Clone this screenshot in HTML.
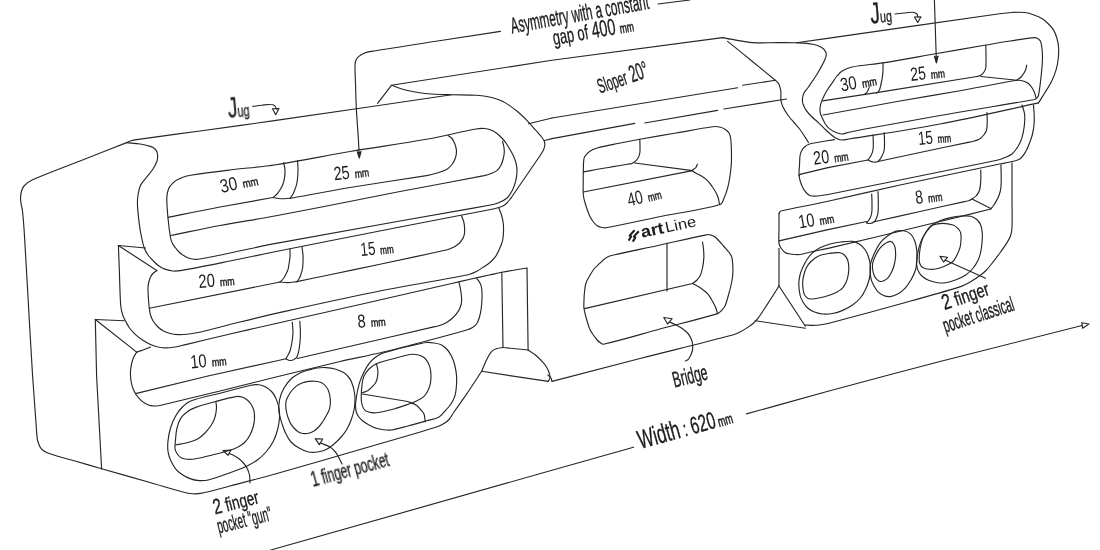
<!DOCTYPE html>
<html lang="en"><head><meta charset="utf-8"><title>Hangboard sketch</title>
<style>
html,body{margin:0;padding:0;background:#fff;}
body{width:1100px;height:550px;overflow:hidden;}
svg{display:block;}
.ln path{fill:none;stroke:#262626;stroke-width:1.15;stroke-linecap:round;stroke-linejoin:round;}
text{white-space:pre;font-family:"Liberation Sans",sans-serif;fill:#1a1a1a;}
</style></head><body>
<svg width="1100" height="550" viewBox="0 0 1100 550">
<rect width="1100" height="550" fill="#fff"/>
<g class="ln">
<path d="M126.7 142.6C111.1 148.7 95.6 154.8 80 161C64.2 167.2 48.1 172.9 32.6 179.8C29.4 181.2 26.4 183.4 24 186C22.5 187.6 21.8 189.9 21.3 192C20.7 194.6 20.4 197.3 20.6 200C20.9 204 22.2 208 22.6 212C23.5 220.6 24.1 229.3 24.6 238C26.2 263 27.5 288 28.9 313C30.1 334 31.2 355 32.6 376C33.8 394 35.1 412 36.5 430C36.8 433.3 36.7 436.8 37.5 440C38.3 443.1 39.2 446.4 41.4 448.8C43.6 451.3 46.9 452.7 50 453.8C58.2 456.8 66.7 458.6 75 461C83.9 463.6 92.7 466.2 101.6 468.8"/>
<path d="M101.6 468.8C117.7 473.4 133.9 477.9 150 482.5C161.9 485.9 173.7 489.6 185.7 492.7C188.1 493.3 190.5 493.7 193 493.8C195.6 493.9 198.2 493.9 200.7 493.4C210.6 491.3 220.3 488.5 230 486C245.4 482 260.7 478.1 276 473.8C304.1 465.9 332 457.7 360 449.5C385.5 442.1 411.2 434.9 436.6 427C439.2 426.2 441.7 424.9 444 423.5C445.8 422.4 447.6 421.1 449 419.5C451 417.2 452.3 414.5 454 412C458.2 405.9 462.6 400 466.7 393.9C471.8 386.4 476.7 378.8 481.7 371.3"/>
<path d="M126.7 142.6C128.1 142 129.5 141.2 131 140.8C132.9 140.2 134.8 139.9 136.7 139.6C157.8 136.6 178.9 133.9 200 131C225.3 127.5 250.7 124 276 120.4C334.5 112 393.1 103.3 451.6 94.8"/>
<path d="M126.7 142.6C131.1 143.1 135.6 143.3 140 144C143.5 144.6 147.1 145.2 150.5 146.4C152.3 147.1 154.2 148.1 155.5 149.5C156.6 150.7 157.3 152.4 157.5 154C157.8 156.3 157.7 158.8 157 161C156.1 163.9 154.6 166.5 153 169C150.9 172.2 148.3 175 146 178C144.1 180.4 141.8 182.5 140.5 185.3C139.1 188.3 138.5 191.7 138 195C137.5 198.4 137.3 201.9 137.5 205.4C137.8 212.1 138.6 218.8 139.5 225.4C140 229.6 140.8 233.8 141.7 238C142.4 241.4 143.1 244.8 144.3 248C145.2 250.5 146.5 252.8 148 255C149.4 257.1 151.2 258.8 153 260.6C154.9 262.5 156.8 264.5 159 266C161 267.4 163.3 268.6 165.6 269.4C168 270.2 170.5 270.8 173 271C175.5 271.2 178.1 271 180.6 270.6C197.1 267.7 213.6 264.3 230 261C245.4 257.9 260.6 254.6 276 251.5C317.3 243.2 358.7 235.1 400 227C429.3 221.3 458.7 215.7 488 210C491 209.4 494 208.8 497 208C498.9 207.5 500.8 207 502.5 206.2C504 205.5 505.3 204.6 506.5 203.5C508.2 201.9 509.5 199.8 511 198"/>
<path d="M511 198L540.5 155"/>
<path d="M540.5 155C541.4 153.5 542.5 152.1 543.2 150.5C543.9 148.9 544.6 147.2 544.8 145.5C545 144 544.7 142.4 544.2 141C543.7 139.7 542.9 138.6 542 137.5C539.8 134.7 537.3 132.2 535 129.5C532.3 126.5 529.7 123.3 526.9 120.4C524.1 117.5 521.1 114.6 518 112C515.2 109.6 512.3 107.5 509.3 105.4C507.3 104 505.2 102.6 503 101.5C501 100.5 498.9 99.7 496.8 99C493.6 98 490.3 97.1 487 96.5C483.6 95.9 480.2 95.5 476.7 95.3C468.3 94.9 460 95 451.6 94.8C444.9 94.6 438.3 94.5 431.6 94C427 93.7 422.5 93.2 418 92.5C414.1 91.9 410.3 91.3 406.5 90.3C401.4 88.9 396.4 87 391.4 85.3"/>
<path d="M276 164.7C260.7 167.1 245.3 168.1 230 170C216.9 171.6 203.7 173.2 190.7 175.3C187.4 175.8 184.1 176.7 181 178C178.1 179.2 175.3 180.7 173 182.8C171.1 184.5 169.5 186.6 168.5 189C167.4 191.8 166.9 194.8 166.8 197.8C166.7 204.5 167.4 211.3 168 218C168.6 224.7 169.4 231.4 170.6 238C170.9 239.9 171.6 241.8 172.5 243.5C173.3 245.1 174.5 246.6 175.6 248C177 249.7 178.3 251.5 180 253C181.7 254.5 183.7 255.7 185.7 256.8C187.4 257.7 189.1 258.4 191 258.8C193.4 259.3 195.8 259.7 198.2 259.3C208.9 257.7 219.4 255.2 230 253C245.3 249.9 260.6 246.3 276 243.4C317.3 235.6 358.7 228.4 400 221C429.7 215.7 459.5 210.7 489.2 205.2C492.2 204.7 495.2 204.1 498 203C501.1 201.8 504.3 200.4 506.8 198.2C509.3 196 511 193 512.5 190C514 187 515 183.8 515.8 180.6C516.5 177.5 517 174.2 517 171C517 168.3 516.7 165.6 516 163C515.3 160.2 514.2 157.6 513 155C511.9 152.6 510.4 150.3 509 148C508 146.3 507.1 144.6 506 143C504.7 141.2 503.3 139.6 501.8 138C500.3 136.4 498.8 134.8 497 133.5C495.1 132.1 493.2 130.8 491 130C488.8 129.1 486.4 128.7 484 128.5C481.3 128.3 478.6 128.5 476 129C459.4 132.1 443.1 136.3 426.5 139.3C401.1 143.8 375.5 147.2 350 151.5C325.3 155.7 300.8 160.9 276 164.7Z"/>
<path d="M168 217.4C185.3 213.9 202.6 210.3 220 207C237.6 203.7 255.3 200.7 273 197.5"/>
<path d="M290.2 198.3C310.1 194.7 330 190.8 350 187.5C375.5 183.3 401 179.8 426.5 175.6C430.1 175 433.6 174.1 437 173C440.3 172 443.6 171.1 446.6 169.4C448.7 168.2 450.5 166.4 452 164.5C453.5 162.6 454.6 160.3 455.4 158C456.1 155.9 456.5 153.7 456.5 151.5C456.5 149.5 456 147.5 455.4 145.5C455 143.9 454.2 142.5 453.5 141C453 139.9 452.4 138.8 451.6 138C450.6 137 449.2 136.3 448 135.5"/>
<path d="M170.6 235.5C187.1 232.2 203.5 228.6 220 225.5C238.6 222 257.4 219.3 276 215.8C317.4 208 358.6 199.5 400 191.5C428 186.1 456.2 181.1 484.2 175.6C486.5 175.1 488.8 174.4 491 173.5C493 172.7 495.1 172 496.8 170.6C498.5 169.2 499.8 167.4 500.8 165.5C502 163.3 502.7 160.9 503.3 158.5C503.9 156.4 504.2 154.2 504.3 152C504.4 150.2 504.1 148.3 503.8 146.5C503.5 144.7 502.9 143 502.5 141.3"/>
<path d="M283.6 162.5C284.1 165 284.9 167.5 285 170C285.2 172.6 284.9 175.2 284.5 177.8C284.2 179.9 283.7 182 283 184C282.3 185.9 281.4 187.6 280.4 189.3C279.4 191 278.3 192.6 277 194C275.8 195.3 274.3 196.3 273 197.5"/>
<path d="M297.6 160.6C297.7 163.4 298 166.2 298 169C298 171.9 297.9 174.9 297.6 177.8C297.4 179.9 297.2 182 296.7 184C296.3 185.8 295.6 187.6 295 189.3C294.4 190.9 293.8 192.5 293 194C292.2 195.5 291.1 196.9 290.2 198.3"/>
<path d="M273 197.5C275.7 197.9 278.3 198.6 281 198.7C284.1 198.8 287.1 198.4 290.2 198.3"/>
<path d="M118.4 245.5L145.5 248"/>
<path d="M118.4 245.5L156.8 270.6"/>
<path d="M118.4 245.5C118.7 254.3 119.1 263.2 119.4 272C119.7 281.6 119.9 291.1 120.4 300.7C120.5 303.5 120.7 306.3 121.2 309C121.6 311.3 122.2 313.6 123 315.8C123.6 317.5 124.5 319.2 125.4 320.8C126.7 323.2 127.9 325.8 129.5 328C131.3 330.4 133.3 332.6 135.5 334.6C137.7 336.6 140 338.4 142.5 340C145.1 341.7 147.7 343.3 150.5 344.6C152.9 345.7 155.4 346.4 158 347C160.5 347.5 163 347.9 165.6 347.9C168.7 347.9 171.9 347.5 175 347C178.6 346.4 182.1 345.4 185.7 344.6C200.5 341.1 215.2 337.5 230 334C245.3 330.4 260.7 327 276 323.5C304 317.1 332 310.9 360 304.5C390.5 297.5 421.1 290.5 451.6 283.5C457.7 282.1 463.9 280.7 470 279.3C476.4 277.9 482.8 276.4 489.2 275C493.4 274.1 497.6 273.1 501.8 272.3C510.2 270.7 518.6 269.4 527 268"/>
<path d="M156.8 270.6C155.5 271.6 154.1 272.4 153 273.5C152 274.5 151.1 275.6 150.5 276.9C149.7 278.5 149.2 280.3 148.8 282C148.3 284 148.1 286.1 148 288.2C147.9 291.5 148.2 294.7 148.4 298C148.6 301.4 148.9 304.8 149.3 308.2C149.6 310.5 149.9 312.8 150.5 315C151.1 317 151.9 319 153 320.8C154.3 322.9 155.8 324.8 157.5 326.5C159.1 328.1 161 329.7 163 330.8C165.2 332 167.6 332.9 170 333.5C172.6 334.2 175.3 334.5 178 334.6C181.7 334.7 185.4 334.4 189 334C192.9 333.5 196.8 332.9 200.7 332C213.9 328.9 226.9 325.2 240 322C252 319 264 316.1 276 313.4C307.3 306.4 338.6 299.3 370 293C400.4 286.9 431.1 281.7 461.6 276C464.1 275.5 466.6 275.2 469 274.5C471.5 273.7 474 272.7 476.4 271.5C478.9 270.2 481.2 268.6 483.6 267C485.8 265.6 488 264.2 490 262.5C491.9 260.8 493.8 259 495.3 256.9C497 254.5 498.3 251.7 499.5 249C500.7 246.4 501.8 243.7 502.5 240.9C503.2 238 503.4 235 503.5 232C503.6 229.2 503.6 226.3 503.3 223.5C503 220.6 502.3 217.8 501.5 215C500.8 212.7 499.8 210.5 498.9 208.2"/>
<path d="M149.3 308.2L280 282"/>
<path d="M290 249C290 251.7 290.2 254.3 290 257C289.8 259.4 289.4 261.7 289 264C288.7 265.8 288.5 267.7 288 269.5C287.5 271.1 286.7 272.5 286 274C285.2 275.5 284.5 277.1 283.5 278.5C282.5 279.8 281.2 280.8 280 282"/>
<path d="M302 247C302.3 249.7 302.8 252.3 303 255C303.2 257.3 303.1 259.7 303 262C302.9 264.2 302.9 266.4 302.5 268.5C302.2 270.4 301.6 272.2 301 274C300.6 275.4 300.2 276.7 299.5 278C298.8 279.3 297.8 280.4 297 281.6"/>
<path d="M280 282C282.7 282.2 285.3 282.7 288 282.6C291 282.5 294 281.9 297 281.6"/>
<path d="M461.6 215.8C462.3 217.9 463.3 219.9 463.8 222C464.3 224.1 464.5 226.2 464.6 228.3C464.7 230.2 464.7 232.1 464.4 234C464.1 235.5 463.7 237.1 462.9 238.4C461.8 240.3 460.5 242 459 243.5C457.5 244.9 455.8 246 454 247C452.1 248 450.1 248.8 448 249.5C445.9 250.2 443.7 250.5 441.6 251C421.1 255.5 400.5 259.9 380 264.3C362.9 267.9 345.8 271.4 328.7 275C318.1 277.2 307.6 279.4 297 281.6"/>
<path d="M95.3 319.5L124.2 320.8"/>
<path d="M95.3 319.5L136.7 352.1"/>
<path d="M95.3 319.5L96.6 376L101.6 468.8"/>
<path d="M136.7 352.1C135.6 353.9 134.3 355.6 133.5 357.5C132.7 359.4 132.2 361.4 131.7 363.4C131.2 365.6 130.8 367.8 130.6 370C130.4 372 130.4 374 130.5 376C130.6 378.2 130.9 380.4 131.3 382.5C131.7 384.5 132.2 386.6 133 388.5C133.8 390.6 134.8 392.6 136 394.5C137.3 396.4 138.8 398.2 140.5 399.8C141.9 401.1 143.4 402.3 145 403.2C146.7 404.2 148.6 405.1 150.5 405.6C152.3 406.1 154.2 406.1 156 406C158 405.9 160 405.5 162 405C181.4 400.5 200.7 395.7 220 391C238.7 386.4 257.3 381.6 276 377C297.3 371.8 318.6 366.5 340 361.5C353.8 358.3 367.7 355.8 381.4 352.5C397.7 348.6 413.8 344.3 430 340C442.3 336.8 454.5 333.6 466.7 330C468.7 329.4 470.7 328.6 472.5 327.5C474.1 326.5 475.7 325.3 476.7 323.7C478 321.7 478.8 319.3 479.5 317C480.3 314.3 480.8 311.4 481.2 308.6C481.7 305.1 481.9 301.5 482 298C482.1 294.8 482.1 291.6 481.7 288.5C481.4 286.6 480.9 284.7 480 283C479.2 281.3 477.8 280 476.7 278.5"/>
<path d="M136.7 352.1C138.8 351.4 140.9 350.8 143 350C145.5 349.1 148 348 150.5 347"/>
<path d="M135.5 393.6L208 376L276 361L286 358.8"/>
<path d="M292.3 322.4C292.5 325.6 293 328.8 293 332C292.9 335.3 292.5 338.7 292 342C291.5 345 291 348.1 290 351C289 353.8 287.3 356.2 286 358.8"/>
<path d="M299.8 321.2C300 324.8 300.4 328.4 300.4 332C300.4 336 300.3 340 299.8 344C299.3 348.2 298.8 352.4 297.3 356.3C296.8 357.7 295.3 358.7 294 359.5C292.8 360.2 291.4 360.6 290 360.5C288.6 360.4 287.3 359.4 286 358.8"/>
<path d="M459 282.3C459.6 285.2 460.4 288.1 460.8 291C461.3 294.3 461.8 297.7 461.6 301C461.5 303.4 460.9 305.8 460 308C459.2 310 457.9 311.9 456.6 313.6C455.2 315.4 453.7 317 452 318.5C450.3 320 448.5 321.3 446.6 322.4C444.3 323.7 442 324.7 439.5 325.5C436.9 326.4 434.2 326.8 431.5 327.4C407.7 332.9 383.8 338.5 360 344C339.1 348.8 318.2 353.7 297.3 358.5"/>
<path d="M168 441C168.5 436.6 169.2 432.2 170.5 428C171.8 423.8 173.5 419.8 175.6 416C177.3 412.9 179.5 410 182 407.5C184.6 404.9 187.3 402.3 190.7 401C200.2 397.4 210.2 395.8 220 393.2C230.3 390.5 240.6 387.4 251 385.2C253.6 384.6 256.4 384.4 259 384.8C261.5 385.1 263.8 386.1 266 387.3C268.2 388.5 270.3 390.1 272 392C273.7 393.9 275 396.2 276 398.6C277.3 401.6 278.4 404.8 279 408C279.6 411.3 279.7 414.7 279.5 418C279.2 422 278.6 426.1 277.5 430C276.4 434.1 275 438.2 273 442C271.1 445.6 268.6 448.9 266 452C263.6 454.8 260.9 457.3 258 459.5C254.6 462 250.8 464.1 247 466C243.5 467.8 239.7 469.2 236 470.5C226.8 473.8 217.6 477.4 208.2 480C205.2 480.8 202.1 480.8 199 480.6C196.2 480.4 193.4 479.9 190.7 478.9C187.6 477.8 184.7 476.3 182 474.5C179.6 472.9 177.4 471 175.6 468.8C173.5 466.1 171.9 463.1 170.5 460C169.3 457.2 168.4 454.3 168 451.3C167.6 447.9 167.6 444.4 168 441Z"/>
<path d="M175.6 438.7C175.9 435.1 176.1 431.5 177 428C177.8 424.7 178.8 421.4 180.6 418.6C182.2 416 184.5 413.8 187 412C189.6 410 192.6 408.5 195.7 407.4C202.3 405 209.1 403.3 215.8 401.5C222.4 399.7 229 397.8 235.8 396.6C237.8 396.2 240 396.4 242 397C243.8 397.5 245.5 398.6 247 399.8C248.8 401.3 250.3 403.1 251.5 405C252.6 406.8 253.5 408.9 254 411C254.5 413.4 254.6 416 254.5 418.5C254.4 421 254.1 423.6 253.4 426C252.6 429.1 251.5 432.2 250 435C248.6 437.7 246.8 440.3 244.6 442.5C242.7 444.4 240.3 445.7 238 447C235.7 448.2 233.3 449.2 230.8 450C224.9 451.8 219 453.3 213 454.8C207.3 456.2 201.5 457.8 195.7 458.8C193 459.3 190.2 459.5 187.5 459.3C185.1 459.1 182.7 458.6 180.6 457.5C179 456.6 178 455 177 453.5C176.1 452.1 175.2 450.5 175 448.8C174.7 445.4 175.3 442.1 175.6 438.7Z"/>
<path d="M215.8 401.5C216 403.3 216.5 405.2 216.5 407C216.5 409.2 216.2 411.4 215.8 413.6C215.4 415.8 214.8 418 214 420C213.1 422.1 212 424.1 210.7 426C209 428.5 207.1 430.9 205 433C202.9 435.1 200.6 437.3 198 438.7C194.6 440.6 190.8 441.7 187 442.8C183.3 443.8 179.4 444.3 175.6 445"/>
<path d="M282.3 424.5C281 420.4 279.5 416.3 279 412C278.5 408 278.7 403.9 279.5 400C280.4 395.8 281.9 391.7 284 388C286.1 384.3 288.9 380.9 292 378C294.3 375.8 297.2 374.4 300 373C302.7 371.7 305.7 370.9 308.6 370C311.4 369.2 314.1 368.4 317 368C320 367.6 323.1 367.4 326.2 367.6C329.2 367.8 332.1 368.2 335 369C338 369.9 341 371 343.7 372.6C345.6 373.7 347.1 375.4 348.5 377C349.6 378.3 350.6 379.8 351.3 381.4C352.5 384.2 353.4 387.1 354 390C354.6 393 355 396 355 399C355 402.3 354.8 405.7 354.2 409C353.6 412.6 352.5 416.1 351.3 419.5C350.1 422.8 348.7 426 347 429C345.4 431.9 343.4 434.5 341.2 437C339 439.5 336.6 441.8 334 444C331.5 446.1 329.1 448.2 326.2 449.6C323.5 450.9 320.5 451.6 317.5 452C314.6 452.4 311.5 452.6 308.6 452C305.2 451.3 302 449.7 299 448C296.1 446.4 293.3 444.4 291 442C288.9 439.7 287.4 436.8 286 434C284.5 431 283.3 427.7 282.3 424.5Z"/>
<path d="M286 401.5C286.6 398.4 288.3 395.6 290 393C291.6 390.5 293.7 388.3 296 386.4C297.8 384.9 299.9 383.8 302 383C304.1 382.2 306.4 381.7 308.6 381.4C310.7 381.1 312.9 381 315 381.2C317.1 381.4 319.3 381.7 321.2 382.6C323.1 383.5 324.7 384.9 326 386.5C327.2 387.9 328.1 389.6 328.7 391.4C329.5 393.8 330.1 396.4 330.3 399C330.5 401.5 330.4 404 330 406.5C329.8 408.2 329.2 409.9 328.5 411.5C327.8 413.2 326.7 414.9 325.8 416.5C324.7 418.4 323.7 420.2 322.5 422C321.3 423.7 320.1 425.5 318.6 427C317.2 428.5 315.7 429.9 314 431C312.3 432 310.5 432.9 308.6 433.3C306.8 433.7 304.9 433.7 303 433.5C301.5 433.3 299.9 432.8 298.6 432C296.7 430.8 295 429.2 293.5 427.5C292 425.8 290.7 424 289.8 422C288.4 418.8 287.1 415.5 286.5 412C285.9 408.6 285.4 404.9 286 401.5Z"/>
<path d="M381.4 353.8C385.4 352.1 389.7 351.1 393.9 350C399.2 348.5 404.6 347.2 410 346C415.5 344.7 420.9 343.2 426.5 342.5C429 342.2 431.5 342.6 434 343C436.6 343.4 439.3 343.8 441.6 345C443.9 346.2 445.8 348.1 447.5 350C449.2 351.9 450.5 354 451.6 356.3C453.1 359.4 454.2 362.7 455 366C455.8 369.4 456.3 372.9 456.6 376.4C456.8 379.3 456.7 382.1 456.5 385C456.3 388 456.1 391 455.4 393.9C454.9 396.2 454.1 398.4 453 400.5C451.9 402.6 450.5 404.6 449 406.5C447.8 408.1 446.4 409.5 445 411C443 413 441.5 415.7 439 417C435.2 419 430.7 419.6 426.5 420.8C420.3 422.6 414.2 424.4 408 426C402.5 427.4 397 429.1 391.4 430C388.8 430.4 386.1 430.1 383.5 429.8C381.1 429.5 378.7 429.1 376.4 428.3C373.8 427.5 371.4 426.3 369 425C366.7 423.8 364.5 422.4 362.5 420.8C361 419.6 359.6 418.1 358.5 416.5C357.5 415.1 356.8 413.6 356.3 412C355.7 410.1 355.6 408 355.5 406C355.4 404.5 355.6 403 355.8 401.5C356.3 398 356.8 394.5 357.5 391C358.2 387.8 358.9 384.5 360 381.4C361.1 378.2 362.5 375 364 372C365.4 369.2 366.9 366.3 368.8 363.8C370.4 361.6 372.4 359.7 374.5 358C376.6 356.3 378.9 354.8 381.4 353.8Z"/>
<path d="M376.4 363.8C382 361.4 388.1 360.1 394 358.5C399.8 356.9 405.6 355.1 411.5 354.3C413.8 354 416.2 354.4 418.5 355C420.5 355.5 422.4 356.3 424 357.5C425.7 358.8 427 360.6 428 362.5C429.1 364.5 429.8 366.6 430.3 368.8C430.8 371.2 431 373.6 431 376C431 378.6 430.8 381.3 430.3 383.9C429.8 386.2 429 388.4 428 390.5C426.9 392.6 425.7 394.8 424 396.4C422 398.3 419.5 399.6 417 400.8C414.4 402.1 411.7 403 409 404C404 405.8 399.1 407.6 394 409C388.2 410.5 382.4 412 376.4 412.7C373.8 413 371 412.7 368.5 412C366.7 411.5 364.9 410.5 363.8 409C362.4 407 361.9 404.4 361.5 402C361.1 399.3 361.2 396.6 361.3 393.9C361.4 390.9 361.6 387.9 362 385C362.4 382.1 362.6 379.1 363.8 376.4C365 373.6 366.9 371.1 369 369C371.1 366.9 373.6 365 376.4 363.8Z"/>
<path d="M376.4 363.8C376.9 365.9 377.6 367.9 377.8 370C378 372.1 377.9 374.3 377.6 376.4C377.3 378.3 376.9 380.3 376 382C375.2 383.7 373.9 385.1 372.6 386.4C371.2 387.9 369.7 389.4 368 390.5C366.3 391.5 364.3 392 362.5 392.7"/>
<path d="M362.5 394L407.7 401.5"/>
<path d="M407.7 401.5C410.5 402.7 413.5 403.4 416 405C418 406.3 419.4 408.2 421 410C422.1 411.2 423.4 412.4 424 414C424.9 416.5 424.9 419.3 425.3 422"/>
<path d="M527 268L528.1 350"/>
<path d="M501.8 272.3L503 347.5L528.1 350"/>
<path d="M503 347.5C501 347.8 498.9 347.9 497 348.5C495.1 349.1 493 349.8 491.7 351.3C489.4 353.8 488 357 486.5 360C484.7 363.7 483.3 367.5 481.7 371.3"/>
<path d="M528.1 350C530.6 351.7 533.2 353.1 535.5 355C537.8 356.9 540 359.1 542 361.3C543.6 363.1 545.3 364.9 546.5 367C547.8 369.1 548.7 371.4 549.5 373.8C549.9 375.1 550.2 376.6 550 378C549.8 379.3 548.8 380.3 548.2 381.4"/>
<path d="M481.7 371.3L548.2 381.4"/>
<path d="M528.5 123.7L552 118"/>
<path d="M377.6 103.4L391.4 85.3L552 60.2L722.6 37.6L728.9 38.9"/>
<path d="M727.6 41.4C735.1 47.4 742.6 53.4 750 59.5C758.5 66.4 766.9 73.3 775.3 80.3C776.4 81.2 777.5 82.1 778.3 83.2C779 84.2 779.5 85.3 779.8 86.5C780.3 88.2 780.8 90 780.9 91.8C781.1 94.5 780.6 97.3 780.9 100C781.2 102.2 781.8 104.4 782.7 106.4C784.2 109.6 786.2 112.6 788.2 115.5C789.9 118 792 120.2 794 122.5C796 124.8 798.2 127 800 129.5C803 133.7 805.7 138.2 808.5 142.5"/>
<path d="M552 118L737.7 87.8"/>
<path d="M742.7 85.3L775.3 80.3"/>
<path d="M544.5 140.5L552 138.6L634.8 123.4"/>
<path d="M644.8 123L717.6 110.4"/>
<path d="M723.9 109L786.6 99"/>
<path d="M583.4 168C583.4 166 583.4 164 583.6 162C583.8 160.2 583.7 158.3 584.6 156.8C585.8 154.7 587.5 152.9 589.5 151.5C591.8 149.9 594.5 148.8 597.2 148C604 146.1 611 144.9 618 143.5C625.3 142 632.5 140.6 639.8 139.3C651.9 137.1 663.9 135.1 676 133C688.2 130.9 700.3 128.4 712.6 126.7C714.9 126.4 717.2 126.5 719.5 127C721.4 127.4 723.3 128.1 725 129.2C726.6 130.2 728 131.4 729 133C729.9 134.5 730.4 136.3 730.6 138C731.2 142 731.3 146 731.4 150C731.5 154.3 731.6 158.7 731.4 163C731.2 167.4 730.6 171.7 730 176C729.4 180.1 728.7 184.2 727.6 188.2C726.8 191.2 725.8 194.2 724.5 197C723.3 199.6 722.8 203.6 720 204.5C701.5 210.2 682 212.1 663 216C644 219.9 625.1 224.3 606 227.8C604.4 228.1 602.6 227.7 601 227.3C599.7 227 598.3 226.6 597.2 225.8C595.6 224.6 594.2 223.1 593 221.5C591.7 219.7 590.5 217.8 589.6 215.8C588.2 212.6 587 209.3 586 206C585 202.6 583.8 199.2 583.4 195.7C582.9 191.2 583.2 186.6 583.2 182C583.2 177.3 583.3 172.7 583.4 168Z"/>
<path d="M639.8 139.3C639.9 141.5 640 143.8 640 146C640 148.3 640.2 150.7 639.8 153C639.5 154.7 638.9 156.5 638 158C637.2 159.4 636.1 160.7 634.8 161.8C633.9 162.6 632.7 163.2 631.5 163.6C630.2 164 628.7 164.1 627.3 164.3C619.9 165.5 612.4 166.7 605 168C597.8 169.2 590.6 170.6 583.4 171.9"/>
<path d="M634.8 163L692.5 170.6"/>
<path d="M697.5 164.3C696.8 165.5 696.4 166.9 695.5 168C694.7 169 691.8 169.5 692.5 170.6C694.2 173.2 697.9 173.8 700.5 175.5C702.9 177.1 705.4 178.6 707.5 180.6C709.5 182.5 710.9 184.8 712.5 187C713.9 189 715.2 191 716.3 193.2C717.2 195 717.9 197 718.5 199C719 200.8 719.2 202.7 719.6 204.5"/>
<path d="M583.4 192L692.5 170.6"/>
<path d="M584.6 291C584.9 288.3 585.1 285.6 586 283C586.8 280.5 588.3 278.3 589.6 276C591 273.6 592.3 271.2 594 269C595.7 266.9 597.8 265.2 599.7 263.4C601.3 261.9 602.8 260.3 604.5 259C606.1 257.8 607.8 256.5 609.7 256C625.7 252 641.9 249 658 245.5C674.5 241.9 690.9 237.8 707.5 234.6C708.8 234.3 710.2 234.8 711.5 235.2C712.8 235.6 714.1 236.1 715.1 237C718.2 239.7 720.8 242.9 723.5 246C726.3 249.2 729.6 252.1 731.4 256C732.8 259.1 732.6 262.6 732.8 266C733 269.3 732.9 272.7 732.6 276C732.4 278.5 731.9 281 731.4 283.5C730.6 287.4 729.6 291.2 728.5 295C727.4 298.7 726.6 302.5 725 306C724.2 307.7 722.8 309.1 721.5 310.5C720.3 311.7 719.2 313.1 717.6 313.6C698.6 319.3 679.2 323.9 660 329C641.1 334.1 622.5 339.9 603.4 344.2C602.2 344.5 601 343.2 600 342.5C599 341.8 598 340.9 597.2 340C595.7 338.3 594.3 336.4 593 334.5C591.7 332.6 590.5 330.8 589.6 328.7C588.3 325.6 587.4 322.3 586.5 319C585.5 315.6 584.5 312.1 584 308.6C583.6 305.8 583.9 302.9 584 300C584.1 297 584.2 294 584.6 291Z"/>
<path d="M667 243.4L667 291"/>
<path d="M702.5 242C702.9 244.7 703.4 247.3 703.6 250C703.8 252.8 704 255.6 703.8 258.4C703.6 261.6 703.2 264.8 702.5 268C701.9 270.7 701.2 273.5 700 276C699.2 277.7 697.8 279.2 696.5 280.5C695.3 281.7 693.8 282.5 692.5 283.5"/>
<path d="M584.6 308.6L692.5 283.5"/>
<path d="M692.5 283.5C695.2 285 698 286.3 700.5 288C703 289.7 705.4 291.4 707.5 293.6C709.1 295.3 710.3 297.5 711.5 299.5C712.8 301.6 713.9 303.8 715 306C715.6 307.3 716 308.7 716.5 310C716.9 311.2 717.2 312.4 717.6 313.6"/>
<path d="M548 375C549 376 550.3 376.8 551 378C551.6 379 551.7 380.3 552 381.4"/>
<path d="M552 381.4C581.3 373.8 610.6 366 640 358.5C670.8 350.6 701.8 343.2 732.6 335C735.3 334.3 738 333.1 740.5 331.8C743 330.5 745.4 329 747.7 327.4C749.5 326.2 751.4 324.9 753 323.5C754.7 322 756.3 320.4 757.7 318.6C761.3 313.8 764.5 308.6 767.8 303.6C771.6 297.8 775.3 291.9 779 286"/>
<path d="M779 286L779 248.4"/>
<path d="M755.2 320.7L805.4 328.2"/>
<path d="M779 286L805.4 326.2"/>
<path d="M728.9 38.9C736.8 40.1 744.7 42 752.7 42.6C761 43.2 769.4 42.6 777.8 42.6C784 42.6 790.2 42.5 796.4 42.8C801.9 43.1 807.5 43.3 812.9 44.3C816 44.9 819 45.9 821.7 47.5C823.4 48.5 825.1 50.1 825.8 52C826.5 53.9 826.2 56.1 825.5 58C823.5 63.2 820.7 68 817.9 72.8C814.8 78 811.3 82.8 807.9 87.8C806.7 89.6 805 91.1 804 93C803.1 94.7 802.7 96.6 802.5 98.5C802.3 100.3 802.5 102.2 803 104C803.7 106.3 804.9 108.4 806.2 110.4C807.7 112.6 809.6 114.6 811.5 116.5C813.4 118.4 815.6 120 817.6 121.8C820.4 124.5 823 127.3 825.8 130C827.6 131.7 829.5 133.4 831.5 135C833.1 136.3 834.7 137.6 836.5 138.5C838.1 139.3 839.8 139.9 841.6 140C844.1 140.1 846.5 139.4 849 139C879.3 134.1 909.8 129.8 940 124C973 117.7 1005.7 109.9 1038.5 102.9"/>
<path d="M796.4 42.8C805.6 41.5 814.8 40.2 824 38.9C853 34.7 882 30.5 911 26.4C940.5 22.2 970 17.9 999.6 13.8C1003.7 13.2 1007.8 12.7 1012 12.5C1016.2 12.3 1020.5 12 1024.7 12.5C1027.9 12.9 1031 13.9 1034 15C1036.9 16 1039.7 17.2 1042.3 18.8C1044.6 20.2 1046.6 22.1 1048.5 24C1050.4 25.9 1052.3 27.8 1053.6 30.1C1055.1 32.7 1056.2 35.6 1057 38.5C1057.9 41.5 1058.4 44.6 1058.6 47.7C1058.8 51.5 1058.6 55.3 1058.2 59C1057.8 62.8 1057.1 66.6 1056 70.2C1054.8 74.1 1053.3 77.9 1051.5 81.5C1049.6 85.4 1047.1 89.1 1044.8 92.8C1042.7 96.2 1040.6 99.5 1038.5 102.9"/>
<path d="M842.2 71C845.2 69.2 848.5 67.7 852 67C862.2 65 872.7 64.5 883 62.9C900 60.2 917 57 934 54C950.9 51.1 967.7 48.1 984.6 45.2C993.1 43.8 1001.5 42.3 1010 41C1018.2 39.8 1026.4 38.1 1034.7 37.6C1036.2 37.5 1037.7 38.3 1038.8 39.2C1039.9 40 1040.6 41.3 1041 42.6C1041.8 45.7 1042.1 48.8 1042.3 52C1042.5 55.6 1042.5 59.1 1042.3 62.7C1042 68.1 1041.4 73.6 1040.8 79C1040.2 84.5 1039.6 89.9 1038.5 95.3C1038.3 96.3 1037.7 97.1 1037 97.8C1036.4 98.5 1035.6 99.3 1034.7 99.5C1003.2 105.2 971.5 110 940 115.5C915 119.9 890 124.4 865 129C859.3 130.1 853.7 131.3 848 132.5C845.9 133 843.8 134.1 841.6 134C839.3 133.9 837.1 132.9 835 132C832.9 131.1 830.8 129.9 829 128.4C827.4 127 826.2 125.3 825 123.5C824 122 823.4 120.3 822.6 118.6C821.8 116.9 820.9 115.3 820.4 113.5C820 111.9 819.9 110.3 820 108.7C820.1 107.1 820.4 105.5 820.8 104C821.3 102.3 821.8 100.5 822.6 98.9C823.9 96 825.4 93.2 827 90.5C828.6 87.8 830.6 85.2 832.4 82.6C833.9 80.4 835.3 78 837 76C838.6 74.2 840.1 72.2 842.2 71Z"/>
<path d="M822.6 100.9L878.2 92.4L977 76.5"/>
<path d="M980.8 76.5L1017.2 80.3"/>
<path d="M822.9 115C848.6 110.3 874.3 105.6 900 101C920 97.5 940 94.2 960 90.7C979 87.3 998 83.5 1017 80.3C1018.3 80.1 1019.7 80.3 1021 80.5C1022.3 80.7 1023.5 81 1024.7 81.5C1026.2 82.2 1027.7 82.9 1029 84C1030.2 85.1 1031.1 86.4 1032 87.8C1033 89.3 1033.8 90.9 1034.5 92.5C1035.2 94.2 1035.5 96 1036 97.8"/>
<path d="M883 62.9C883 65.3 883.1 67.6 883 70C882.9 72.5 882.7 75.1 882.3 77.6C882 79.8 881.5 81.9 881 84C880.6 85.7 880.3 87.4 879.8 89C879.5 89.9 879.1 90.8 878.5 91.5C878 92.2 877.2 92.6 876.6 93.2"/>
<path d="M869.2 87.5C868.6 88.8 868.3 90.3 867.5 91.5C866.9 92.5 865.8 93.2 865 94"/>
<path d="M985.8 45.2C985.9 48.8 986 52.4 986 56C986 59.9 986.3 63.8 985.8 67.7C985.6 69.2 984.9 70.7 984 72C983.2 73.3 982.1 74.5 980.8 75.3C979.7 76 978.3 76.1 977 76.5"/>
<path d="M1026.7 65.2C1026.3 66.8 1026.1 68.5 1025.5 70C1025 71.4 1024.2 72.7 1023.4 74C1022.6 75.3 1021.6 76.5 1020.5 77.5C1019.5 78.4 1018.3 79 1017.2 79.8"/>
<path d="M800 174.4C799.7 174.8 799 176.1 799 175.6C798.8 172.1 799.3 168.5 799.5 165C799.7 162 799.6 159 800 156C800.2 154.3 800.7 152.6 801.5 151C802.2 149.5 803.2 148.1 804.5 147C806 145.7 807.7 144.6 809.5 144C812.9 142.9 816.5 142.6 820 142C824.8 141.2 829.7 140.4 834.5 139.6"/>
<path d="M799 175.6C799.5 177.7 799.8 179.9 800.5 182C801.2 184.1 802 186.1 803 188C803.8 189.6 804.8 191.2 806 192.5C807.3 193.8 808.7 195.2 810.4 195.7C812.8 196.4 815.5 196.2 818 196C821.4 195.8 824.7 195.1 828 194.5C852 189.8 876 184.9 900 180C932.3 173.4 964.7 167.1 997 160.2C999.8 159.6 1002.4 158.6 1005 157.5C1007.4 156.5 1010 155.7 1012 154C1014.4 151.9 1016.3 149.2 1018 146.5C1019.7 143.7 1021 140.7 1022 137.6C1023.2 133.8 1023.8 129.9 1024.3 126C1024.7 122.4 1024.9 118.7 1024.7 115C1024.6 113.1 1024 111.3 1023.5 109.5C1023.1 108 1022.5 106.5 1022 105"/>
<path d="M800 174.4L828 167.6L868 160"/>
<path d="M873 135C873.1 137.3 873.3 139.7 873.3 142C873.3 144.7 873.4 147.4 873 150C872.7 151.9 871.9 153.8 871 155.5C870.2 157.1 869 158.5 868 160"/>
<path d="M884.2 132.6C884.3 135.4 884.5 138.2 884.5 141C884.5 144 884.7 147 884.2 150C883.8 152.1 883 154.1 882 156C880.9 158 879.9 160.2 878 161.5C876.6 162.4 874.7 162.2 873 162C871.2 161.7 869.7 160.7 868 160"/>
<path d="M987 112.5C987.1 115.3 987.3 118.2 987.2 121C987.1 124 987.3 127.1 986.6 130C986.1 131.9 985 133.5 983.8 135C982.6 136.5 981.2 137.9 979.6 138.9C977.7 140 975.6 140.6 973.5 141.2C971.4 141.8 969.2 142.1 967 142.6C951.3 145.9 935.7 149.2 920 152.5C906 155.5 892 158.5 878 161.5"/>
<path d="M779 213.3C779.3 212.7 779.5 212.1 780 211.6C780.4 211.2 781 210.9 781.6 210.8C797 207.5 812.6 204.6 828 201.2C852 196 876 190.2 900 185C933.2 177.8 966.4 170.9 999.6 164C1003.1 163.3 1006.6 162.9 1010 162C1013.3 161.2 1016.9 160.8 1019.7 159C1022.2 157.4 1023.9 154.6 1025.5 152C1027.3 149.1 1028.5 145.8 1029.7 142.6C1030.8 139.8 1031.8 136.9 1032.5 134C1033.2 131 1033.7 128 1034 125C1034.3 121.7 1034.3 118.3 1034.2 115C1034.1 111.7 1033.7 108.3 1033.5 105"/>
<path d="M779 213.3C779 218.2 779 223.1 779 228C779 233.1 778.5 238.3 779 243.4C779.2 245.1 780.1 246.6 781 248C782.1 249.7 783.3 251.4 785 252.5C786.5 253.5 788.5 253.8 790.3 254C793.5 254.4 796.8 254.8 800 254.5C803.5 254.1 806.9 252.8 810.4 252C816.3 250.7 822.2 249.7 828 248.4C843.4 244.9 858.7 241.2 874 237.5C896 232.2 918 226.9 940 221.5C956.9 217.4 973.9 213.2 990.8 209"/>
<path d="M779 240.9L828 229.6L866.7 221.5"/>
<path d="M871.7 194C871.8 197 872 200 872 203C872 206.3 872.2 209.7 871.7 213C871.4 214.9 870.7 216.8 869.8 218.5C869 220.1 867.7 221.5 866.7 223"/>
<path d="M878 191.6C878.1 195.1 878.3 198.5 878.3 202C878.3 205.7 878.4 209.4 878 213C877.8 214.7 877.2 216.4 876.5 218C875.9 219.3 875.3 220.8 874.2 221.7C873 222.7 871.5 223.2 870 223.5C868.9 223.7 867.8 223.2 866.7 223"/>
<path d="M980.8 170C980.8 173.3 981 176.7 980.8 180C980.6 183.4 980.5 186.8 979.6 190C979 192 977.9 193.9 976.5 195.5C975.3 197 973.6 198 972 199C970.9 199.7 969.7 200.4 968.5 200.8C967.2 201.2 965.8 201.3 964.5 201.6C949.7 204.9 934.8 208.2 920 211.5C904.7 214.9 889.5 218.3 874.2 221.7"/>
<path d="M972 199L990.8 208.5"/>
<path d="M1000.9 165C1001 168.7 1001.2 172.3 1001.2 176C1001.2 179.9 1001.3 183.9 1000.9 187.8C1000.6 190.4 999.9 193 999 195.5C998.2 197.6 997.1 199.6 996 201.6C995.3 203 994.4 204.2 993.5 205.5C992.7 206.7 991.7 207.8 990.8 209"/>
<path d="M1012 162.7C1012 175.1 1012 187.6 1012 200C1012 209.2 1012.4 218.4 1012 227.6C1011.9 230.4 1011.4 233.3 1010.5 236C1009.7 238.4 1008.3 240.5 1007 242.6C1004.7 246.3 1002.1 249.9 999.5 253.5C996.7 257.4 993.7 261.2 990.7 265C989.2 266.9 987.7 268.8 986 270.5C984.4 272.1 982.6 273.6 980.7 275C977.6 277.3 974.4 279.6 971 281.5C967.7 283.4 964.3 285.4 960.6 286.6C940.6 292.9 920.2 298.4 900 304C876.7 310.5 853.4 316.8 830 323C827 323.8 824 324.4 821 324.8C818.2 325.2 815.4 325.4 812.6 325.4C810.1 325.4 807.5 325.1 805 325"/>
<path d="M798.8 282.8C798.8 280.2 799.4 277.6 800 275C800.6 272.5 801.5 270.1 802.6 267.7C803.9 264.9 805.3 262.1 807 259.5C808.6 257.1 810.4 254.7 812.6 252.7C815 250.6 817.7 248.9 820.5 247.5C823.6 246 826.9 244.9 830.2 244C833.7 243.1 837.4 242.4 841 242C844.9 241.5 848.9 240.9 852.8 241.4C855.4 241.7 857.8 243 860 244.5C862.1 245.9 863.9 247.9 865.3 250C866.7 252.1 867.7 254.6 868.5 257C869.4 259.6 870 262.3 870.3 265C870.6 267.5 870.5 270 870.3 272.5C870.1 275 869.7 277.6 869 280C868.1 283.2 867 286.5 865.5 289.5C864.1 292.5 862.4 295.5 860.3 298C858.1 300.7 855.4 303 852.5 305C849.5 307.1 846.1 308.9 842.7 310.4C839.4 311.8 836 312.9 832.5 313.5C829.2 314.1 825.9 314.3 822.6 314C819.8 313.8 817.1 313 814.5 312C812 311 809.6 309.7 807.6 308C805.7 306.3 804.3 304.2 803 302C801.7 299.8 800.5 297.5 800 295C799.1 291 798.8 286.9 798.8 282.8Z"/>
<path d="M802.6 282.8C802.6 280.2 803.2 277.6 803.8 275C804.4 272.5 805.1 270 806.3 267.7C807.5 265.4 809.2 263.3 811 261.5C813 259.5 815.1 257.6 817.6 256.4C821 254.8 824.8 254.1 828.5 253.5C832.4 252.9 836.3 252.2 840.2 252.7C842 252.9 843.5 254.2 844.8 255.5C846.1 256.7 847.1 258.3 847.7 260C848.5 262.4 848.7 265 848.8 267.5C848.9 270 848.6 272.5 848.2 275C847.8 277.4 847.2 279.8 846.2 282C845.3 284.1 844.2 286.1 842.7 287.8C841.1 289.5 839.1 290.8 837 292C834.8 293.3 832.4 294.2 830 295C826.7 296.1 823.4 297.1 820 297.8C816.7 298.5 813.3 299.2 810 299C808.5 298.9 807.1 297.9 806 296.8C804.9 295.7 804.2 294.3 803.8 292.8C803 289.5 802.6 286.2 802.6 282.8Z"/>
<path d="M870.3 265C870.9 260.8 872.8 256.9 874.5 253C876.1 249.4 878 245.8 880.4 242.6C882.4 240 884.9 237.9 887.5 236C889.9 234.2 892.5 232.3 895.4 231.4C898 230.6 900.8 230.4 903.5 230.8C906 231.2 908.6 232.2 910.5 233.9C912.6 235.8 913.8 238.4 914.8 241C915.9 243.9 916.4 247 916.7 250C917 253.3 917 256.7 916.8 260C916.6 263.4 916.4 266.8 915.5 270C914.5 273.3 912.9 276.5 911.2 279.5C909.5 282.4 907.7 285.3 905.4 287.8C903.4 290 901.1 292 898.5 293.5C896 295 893.3 296.2 890.4 296.6C888.1 296.9 885.7 296.4 883.5 295.5C881.4 294.7 879.4 293.3 877.8 291.6C876 289.7 874.7 287.3 873.5 285C872.3 282.7 871.2 280.3 870.8 277.8C870.1 273.6 869.7 269.2 870.3 265Z"/>
<path d="M872.8 262.7C873.5 259.8 874.7 257.1 876 254.5C877.2 252.1 878.7 249.8 880.4 247.7C881.8 246.1 883.4 244.6 885.2 243.5C886.8 242.5 888.5 241.2 890.4 241.4C892 241.6 893.2 243.1 894 244.5C895 246.1 895.2 248.1 895.4 250C895.7 252.5 895.7 255 895.5 257.5C895.3 260 894.9 262.5 894.2 265C893.6 267.4 892.7 269.8 891.6 272C890.6 274.1 889.4 276.1 887.9 277.8C886.9 279 885.6 279.9 884.2 280.6C883 281.2 881.7 281.7 880.4 281.5C879 281.3 877.8 280.3 876.8 279.3C875.6 278.1 874.6 276.6 874 275C873.2 273.1 872.8 271 872.6 269C872.4 266.9 872.3 264.7 872.8 262.7Z"/>
<path d="M916.7 265C916.4 261 917.1 257 917.8 253C918.4 249.5 919.3 246 920.5 242.6C921.6 239.6 923.1 236.7 924.8 234C926.5 231.3 928.1 228.4 930.5 226.3C933.3 223.9 936.6 222.3 940 220.8C943.4 219.3 947 218.4 950.6 217.6C954 216.8 957.5 216.2 961 216C964.2 215.8 967.5 215.6 970.7 216.3C972.9 216.8 975.1 218 976.8 219.5C978.5 221 979.9 222.9 980.7 225C981.8 227.7 982.1 230.6 982.3 233.5C982.5 236.5 982.3 239.6 982 242.6C981.8 245.6 981.4 248.6 980.8 251.5C980.2 254.4 979.5 257.3 978.2 260C976.8 263 974.9 265.9 972.8 268.5C970.7 271 968.4 273.2 965.7 275C962.7 277 959.4 278.5 956 279.8C952.6 281.1 949.2 282.3 945.6 282.8C942.6 283.2 939.5 283 936.5 282.5C933.6 282 930.7 281.1 928 280C926.1 279.2 924.4 278.1 922.8 276.8C921.4 275.7 920 274.4 919.2 272.8C917.9 270.4 916.9 267.7 916.7 265Z"/>
<path d="M919.2 260C919.2 256 919.5 252 920.2 248C920.8 244.5 921.7 240.9 923 237.6C924 235 925.6 232.7 927.3 230.5C928.9 228.4 930.6 226.1 933 225C936.1 223.6 939.6 223.3 943 223.3C946.4 223.3 949.8 223.9 953 225C954.8 225.6 956.3 226.9 957.6 228.2C958.9 229.5 960.1 230.9 960.6 232.6C961.3 235 961.1 237.5 961 240C960.9 242.6 960.7 245.2 960 247.7C959.3 250.2 958.2 252.7 957 255C955.8 257.3 954.9 259.8 953 261.5C950.6 263.7 947.5 264.9 944.5 266.2C941.6 267.4 938.6 268.4 935.5 269C933.4 269.4 931.2 269.4 929 269.2C926.9 269 924.8 268.7 923 267.7C921.7 267 920.8 265.8 920.2 264.5C919.5 263.1 919.2 261.5 919.2 260Z"/>
<path d="M500.5 31.4C479 34.7 457.5 38 436 41.3C414.4 44.6 392.8 47.8 371.3 51.4C368.8 51.8 366.3 52.3 364 53.2C362.1 54 360.3 55.1 358.8 56.4C357.6 57.4 356.6 58.8 356 60.2C355.3 61.8 355 63.5 355 65.2C354.9 72.1 355.4 79.1 355.6 86C355.8 93.3 355.9 100.6 356.3 107.9C356.8 117.9 357.7 128 358.3 138C358.7 144.3 359 150.7 359.3 157"/>
<path d="M658 4L690 0"/>
<path d="M934.4 0L936.4 62"/>
<path d="M270 550.2L552 470.3L633.5 447.2"/>
<path d="M746.4 413.9C773.6 406.4 800.8 398.7 828 391.3C865.3 381.2 902.6 371.2 940 361.5C987.3 349.3 1034.7 337.5 1082 325.5"/>
<path d="M252.8 106.4C255.9 106 258.9 105.5 262 105.2C264.8 104.9 267.5 104.4 270.3 104.5C271.8 104.5 273.4 104.7 274.6 105.6C275.7 106.4 275.9 108 276.6 109.2"/>
<path d="M272.5 108.8L279 108.6L275.7 114.7L272.5 108.8"/>
<path d="M895 14C898 13.7 901 13.3 904 13C906.9 12.7 909.8 12.1 912.7 12.3C914.2 12.4 915.7 13 916.8 14C917.6 14.7 917.6 16 918 17"/>
<path d="M914.5 17L921 16.8L917.7 22.5L914.5 17"/>
<path d="M250 483C249.8 480.3 250 477.6 249.5 475C249 472.6 248.1 470.2 247 468C246 466 244.5 464.2 243 462.5C241.5 460.8 239.8 459.3 238 458C236.4 456.8 234.7 455.9 233 455C231.7 454.4 230.3 454 229 453.5"/>
<path d="M223 450.6L231 450L228 455.3L223 450.6"/>
<path d="M320.5 443C323.7 444.3 327 445.3 330 447C331.7 448 333.2 449.5 334.5 451C335.9 452.5 337 454.2 338 456C339.5 458.6 340.7 461.3 342 464"/>
<path d="M315.3 438.6L322.7 439L319.3 444.6L315.3 438.6"/>
<path d="M669.5 322C671.7 323 673.9 323.9 676 325C678.2 326.1 680.5 327.3 682.5 328.7C684.5 330.1 686.4 331.7 688 333.5C689.3 335 690.2 336.7 691 338.5C691.7 340.2 692.3 341.9 692.5 343.7C692.8 346.1 692.9 348.6 692.3 351C691.6 353.8 690.3 356.4 688.7 358.8C687.9 359.9 686.5 360.3 685.4 361"/>
<path d="M663.8 317.5L672.2 318.7L667.6 324L663.8 317.5"/>
<path d="M945 260L985.5 278.2"/>
<path d="M940 256.4L947.5 257.3L943.6 262L940 256.4"/>
<path d="M1081.8 322.7L1089 324L1082.6 328.2L1081.8 322.7"/>
<path d="M357.3 151.8L359.3 158L361 151.6L359.2 153Z" style="fill:#262626"/>
<path d="M934.4 56.3L936.4 62.9L938.1 56.1L936.3 57.5Z" style="fill:#262626"/>
</g>
<g class="tx" opacity="0.99">
<text transform="translate(221.5 192.9) rotate(-12.3) scale(0.820 1.00)"><tspan font-size="19">30</tspan><tspan font-size="11.5" dx="3.3" stroke="#222" stroke-width="0.45"> mm</tspan></text>
<text transform="translate(334.4 180.3) rotate(-6.6) scale(0.757 1.00)"><tspan font-size="19">25</tspan><tspan font-size="11.5" dx="3.3" stroke="#222" stroke-width="0.45"> mm</tspan></text>
<text transform="translate(199.0 288.0) rotate(-4.8) scale(0.772 1.00)"><tspan font-size="19">20</tspan><tspan font-size="11.5" dx="3.3" stroke="#222" stroke-width="0.45"> mm</tspan></text>
<text transform="translate(361.0 256.0) rotate(-5.2) scale(0.708 1.00)"><tspan font-size="19">15</tspan><tspan font-size="11.5" dx="3.3" stroke="#222" stroke-width="0.45"> mm</tspan></text>
<text transform="translate(191.0 368.5) rotate(-5.6) scale(0.773 1.00)"><tspan font-size="19">10</tspan><tspan font-size="11.5" dx="3.3" stroke="#222" stroke-width="0.45"> mm</tspan></text>
<text transform="translate(358.0 328.0) rotate(-4.9) scale(0.776 1.00)"><tspan font-size="19">8</tspan><tspan font-size="11.5" dx="3.3" stroke="#222" stroke-width="0.45"> mm</tspan></text>
<text transform="translate(841.4 91.5) rotate(-10.2) scale(0.782 1.00)"><tspan font-size="19">30</tspan><tspan font-size="11.5" dx="3.3" stroke="#222" stroke-width="0.45"> mm</tspan></text>
<text transform="translate(911.0 80.9) rotate(-6.0) scale(0.737 1.00)"><tspan font-size="19">25</tspan><tspan font-size="11.5" dx="3.3" stroke="#222" stroke-width="0.45"> mm</tspan></text>
<text transform="translate(814.0 164.7) rotate(-7.0) scale(0.754 1.00)"><tspan font-size="19">20</tspan><tspan font-size="11.5" dx="3.3" stroke="#222" stroke-width="0.45"> mm</tspan></text>
<text transform="translate(918.7 145.0) rotate(-5.6) scale(0.704 1.00)"><tspan font-size="19">15</tspan><tspan font-size="11.5" dx="3.3" stroke="#222" stroke-width="0.45"> mm</tspan></text>
<text transform="translate(799.5 228.6) rotate(-9.7) scale(0.763 1.00)"><tspan font-size="19">10</tspan><tspan font-size="11.5" dx="3.3" stroke="#222" stroke-width="0.45"> mm</tspan></text>
<text transform="translate(916.0 204.0) rotate(-7.0) scale(0.743 1.00)"><tspan font-size="19">8</tspan><tspan font-size="11.5" dx="3.3" stroke="#222" stroke-width="0.45"> mm</tspan></text>
<text transform="translate(629.0 206.4) rotate(-13.4) scale(0.736 1.00)"><tspan font-size="19">40</tspan><tspan font-size="11.5" dx="3.3" stroke="#222" stroke-width="0.45"> mm</tspan></text>
<text transform="translate(228.5 117.5) rotate(-5.3) scale(0.715 1.10)" stroke="#1a1a1a" stroke-width="0.3" vector-effect="non-scaling-stroke"><tspan font-size="27">J</tspan><tspan font-size="15">ug</tspan></text>
<text transform="translate(871.0 23.5) rotate(-5.3) scale(0.715 1.10)" stroke="#1a1a1a" stroke-width="0.3" vector-effect="non-scaling-stroke"><tspan font-size="27">J</tspan><tspan font-size="15">ug</tspan></text>
<text transform="translate(215.0 514.5) rotate(-14.3) scale(0.853 1.20)" stroke="#1a1a1a" stroke-width="0.3" vector-effect="non-scaling-stroke"><tspan font-size="18">2</tspan><tspan font-size="16"> finger</tspan></text>
<text transform="translate(219.0 533.5) rotate(-14.0) scale(0.621 1.30)" stroke="#1a1a1a" stroke-width="0.3" vector-effect="non-scaling-stroke"><tspan font-size="16">pocket "gun"</tspan></text>
<text transform="translate(313.0 487.0) rotate(-15.2) scale(0.757 1.25)" stroke="#1a1a1a" stroke-width="0.3" vector-effect="non-scaling-stroke"><tspan font-size="18">1</tspan><tspan font-size="16"> finger pocket</tspan></text>
<text transform="translate(944.5 310.0) rotate(-18.6) scale(0.891 1.20)" stroke="#1a1a1a" stroke-width="0.3" vector-effect="non-scaling-stroke"><tspan font-size="18">2</tspan><tspan font-size="16"> finger</tspan></text>
<text transform="translate(945.5 332.7) rotate(-18.0) scale(0.657 1.30)" stroke="#1a1a1a" stroke-width="0.3" vector-effect="non-scaling-stroke"><tspan font-size="16">pocket classical</tspan></text>
<text transform="translate(512.0 33.5) rotate(-10.2) scale(0.652 1.25)" stroke="#1a1a1a" stroke-width="0.3" vector-effect="non-scaling-stroke"><tspan font-size="18">Asymmetry with a constant</tspan></text>
<text transform="translate(554.0 45.0) rotate(-9.9) scale(0.713 1.15)" stroke="#1a1a1a" stroke-width="0.3" vector-effect="non-scaling-stroke"><tspan font-size="18">gap of</tspan><tspan font-size="20"> 400 </tspan><tspan font-size="12.01" stroke="#222" stroke-width="0.45">mm</tspan></text>
<text transform="translate(600.0 93.5) rotate(-18.8) scale(0.622 1.20)" stroke="#1a1a1a" stroke-width="0.3" vector-effect="non-scaling-stroke"><tspan font-size="17">Sloper</tspan><tspan font-size="20"> 20°</tspan></text>
<text transform="translate(674.5 387.5) rotate(-13.8) scale(0.723 1.30)" stroke="#1a1a1a" stroke-width="0.3" vector-effect="non-scaling-stroke"><tspan font-size="17">Bridge</tspan></text>
<text transform="translate(640.5 449.0) rotate(-15.7) scale(0.761 1.20)" stroke="#1a1a1a" stroke-width="0.3" vector-effect="non-scaling-stroke"><tspan font-size="22">Width</tspan><tspan font-size="18"> : </tspan><tspan font-size="20">620</tspan><tspan font-size="10" stroke="#222" stroke-width="0.45"> </tspan><tspan font-size="12.01" stroke="#222" stroke-width="0.45">mm</tspan></text>
<text transform="translate(642.0 237.8) rotate(-12.1) scale(1.104 1.00)" class="logo"><tspan font-size="16.5" font-weight="bold">art</tspan><tspan font-size="15" dx="1.5">Line</tspan></text>
<path d="M628.6 240.6L631.2 236.4L629.6 235.6L634.6 230.2M632.8 241.6L635.4 237.4L633.8 236.6L638.8 231.2" fill="none" stroke="#1a1a1a" stroke-width="2" stroke-linejoin="round"/>
</g>
</svg>
</body></html>
